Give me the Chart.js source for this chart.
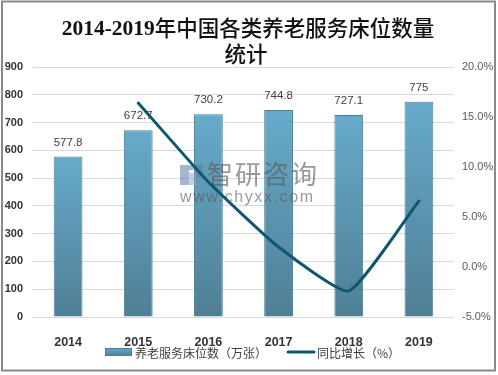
<!DOCTYPE html>
<html>
<head>
<meta charset="utf-8">
<script src="https://cdn.jsdelivr.net/npm/chart.js@4"></script>
<style>
  html, body { margin: 0; padding: 0; background: #fff; }
  #wrap { width: 498px; height: 375px; }
</style>
</head>
<body>
<div id="wrap"><canvas id="chart" width="498" height="375"></canvas></div>
<script>
(function () {
  'use strict';

  var YEARS = ['2014', '2015', '2016', '2017', '2018', '2019'];
  var BEDS = [577.8, 672.7, 730.2, 744.8, 727.1, 775];
  var GROWTH = [null, 16.4, 8.5, 2.0, -2.4, 6.6];
  var TITLE_LINES = ['2014-2019年中国各类养老服务床位数量', '统计'];
  var BAR_NAME = '养老服务床位数（万张）';
  var LINE_NAME = '同比增长（%）';

  var LINE_COL = '#0f566f';
  var TXT = '#404040';
  var CJK = "'Noto Sans CJK SC', 'Liberation Sans', sans-serif";
  var SERIF_B = "bold 21.5px 'Liberation Serif', serif";
  var CJK_T = "500 21.5px 'Noto Sans CJK SC', sans-serif";

  function barGradient(ctx, top, bottom) {
    var g = ctx.createLinearGradient(0, top, 0, bottom);
    g.addColorStop(0, '#67aacb');
    g.addColorStop(1, '#4f7f95');
    return g;
  }

  // title line: latin run in bold serif, the rest in CJK, centred as one
  function titleLine(c, text, cx, y) {
    var m = text.match(/^[0-9\-]*/)[0];
    var rest = text.slice(m.length);
    c.font = SERIF_B;
    var w1 = c.measureText(m).width;
    c.font = CJK_T;
    var w2 = c.measureText(rest).width;
    var x = cx - (w1 + w2) / 2;
    c.textAlign = 'left';
    c.font = SERIF_B;
    c.fillText(m, x, y + 1);
    c.font = CJK_T;
    c.fillText(rest, x + w1, y);
  }

  // white page, frame, title, legend
  var framePlugin = {
    id: 'frame',
    beforeDraw: function (chart) {
      var c = chart.ctx;
      c.save();
      c.fillStyle = '#fff';
      c.fillRect(0, 0, chart.width, chart.height);
      c.restore();
    },
    afterDraw: function (chart) {
      var c = chart.ctx;
      c.save();
      c.strokeStyle = '#8a8a8a';
      c.lineWidth = 2;
      c.strokeRect(2, 1.5, 493, 369);

      c.fillStyle = '#111';
      c.textBaseline = 'middle';
      titleLine(c, TITLE_LINES[0], 248, 28);
      titleLine(c, TITLE_LINES[1], 246, 54);

      // legend
      var ly = 352;
      c.fillStyle = barGradient(c, ly - 4, ly + 4);
      c.fillRect(105, ly - 4, 27, 8);
      c.strokeStyle = '#4f7f95';
      c.lineWidth = 1;
      c.strokeRect(105.5, ly - 3.5, 26, 7);
      c.font = '12px ' + CJK;
      c.textAlign = 'left';
      c.fillStyle = TXT;
      c.fillText(BAR_NAME, 135, ly + 1);

      c.strokeStyle = LINE_COL;
      c.lineWidth = 3;
      c.lineCap = 'round';
      c.beginPath();
      c.moveTo(288, ly);
      c.lineTo(314, ly);
      c.stroke();
      c.fillText(LINE_NAME, 317, ly + 1);
      c.restore();
    },
    // value labels and watermark sit between the bars and the line
    afterDatasetDraw: function (chart, args) {
      if (args.index !== 0) return;
      var c = chart.ctx;
      var meta = chart.getDatasetMeta(0);
      c.save();
      c.font = "11.5px 'Liberation Sans', sans-serif";
      c.fillStyle = TXT;
      c.textAlign = 'center';
      c.textBaseline = 'middle';
      meta.data.forEach(function (bar, i) {
        c.fillText(String(BEDS[i]), bar.x, bar.y - 14);
      });

      c.fillStyle = 'rgba(95,120,165,0.55)';
      c.fillRect(180, 165, 9, 20);
      c.fillRect(189, 165, 14, 5);
      c.fillRect(196, 170, 7, 8);
      c.fillStyle = 'rgba(150,170,205,0.55)';
      c.fillRect(189, 173, 7, 12);
      c.fillStyle = 'rgba(90,90,90,0.62)';
      c.textAlign = 'left';
      c.font = '26px ' + CJK;
      c.letterSpacing = '2px';
      c.fillText('智研咨询', 207, 174);
      c.font = "16px 'Liberation Sans', sans-serif";
      c.letterSpacing = '1.6px';
      c.fillText('www.chyxx.com', 180, 198);
      c.restore();
    }
  };

  new Chart(document.getElementById('chart'), {
    type: 'bar',
    data: {
      labels: YEARS,
      datasets: [{
        type: 'bar',
        label: BAR_NAME,
        data: BEDS,
        yAxisID: 'y',
        order: 1,
        backgroundColor: function (ctx) {
          var chart = ctx.chart;
          var area = chart.chartArea;
          if (!area || ctx.type !== 'data') return '#5f9fbf';
          var top = chart.scales.y.getPixelForValue(ctx.raw);
          return barGradient(chart.ctx, top, area.bottom);
        },
        borderColor: '#4a7c93',
        borderWidth: 1,
        barPercentage: 0.41,
        categoryPercentage: 1
      }, {
        type: 'line',
        label: LINE_NAME,
        data: GROWTH,
        yAxisID: 'y1',
        order: 0,
        borderColor: LINE_COL,
        borderWidth: 3,
        borderCapStyle: 'round',
        pointRadius: 0,
        tension: 0.15,
        fill: false
      }]
    },
    options: {
      responsive: false,
      animation: false,
      layout: { padding: { top: 67, left: 0, right: 0, bottom: 0 } },
      plugins: { legend: { display: false }, tooltip: { enabled: false }, title: { display: false } },
      scales: {
        x: {
          grid: { display: false },
          border: { display: false },
          ticks: { color: '#333', padding: 10, font: { size: 12.5, weight: 'bold', family: "'Liberation Sans', sans-serif" } },
          afterFit: function (s) { s.height = 58; }
        },
        y: {
          position: 'left',
          min: 0, max: 900,
          ticks: { stepSize: 100, color: '#333', padding: 10, font: { size: 11, weight: 'bold', family: "'Liberation Sans', sans-serif" } },
          grid: { color: '#d9d9d9', drawTicks: false },
          border: { display: false },
          afterFit: function (s) { s.width = 33; }
        },
        y1: {
          position: 'right',
          min: -5, max: 20,
          ticks: {
            stepSize: 5, color: '#595959', padding: 8,
            font: { size: 11, family: "'Liberation Sans', sans-serif" },
            callback: function (v) { return v.toFixed(1) + '%'; }
          },
          grid: { display: false, drawTicks: false },
          border: { display: false },
          afterFit: function (s) { s.width = 44; }
        }
      }
    },
    plugins: [framePlugin]
  });
})();
</script>
</body>
</html>
